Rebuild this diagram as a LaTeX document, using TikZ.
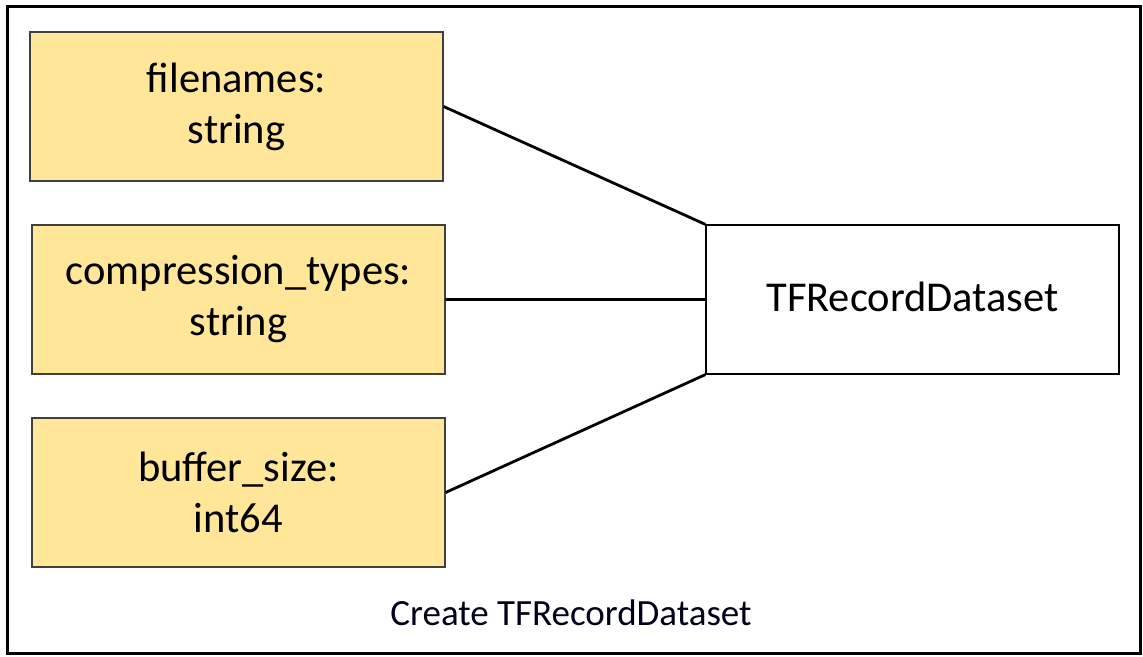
\documentclass[tikz,border=0pt]{standalone}
\usepackage{fontspec}
\setmainfont{Carlito}
\usepackage{xcolor}
\usetikzlibrary{positioning}

\definecolor{argfill}{HTML}{FFE699}
\definecolor{argline}{HTML}{404040}

\begin{document}
\begin{tikzpicture}[x=1pt, y=-1pt, node distance=193pt, on grid,
    arg/.style={draw=argline, line width=1.2pt, fill=argfill, minimum width=413pt, minimum height=149pt,
        align=center, font=\fontsize{42.5}{51}\selectfont, inner sep=0pt},
    op/.style={draw=black, line width=1.2pt, fill=white, minimum width=413pt, minimum height=149pt,
        font=\fontsize{42.5}{51}\selectfont, inner sep=0pt, text depth=0.6em},
    wire/.style={draw=black, line width=2.8pt}]
        \useasboundingbox (0,0) rectangle (1143,656);
        \draw[line width=3pt] (7,6) rectangle (1140,653);
        \node[arg] (files) at (236.5,106.5) {filenames:\\string};
        \node[arg] (comp) [below=of files, xshift=2pt] {compression\_types:\\string};
        \node[arg] (buf) [below=of comp] {buffer\_size:\\int64};
        \node[op] (ds) [right=674pt of comp] {TFRecordDataset};
        \node[font=\fontsize{37}{44}\selectfont, text=black!90!blue] (caption) at (571,613) {Create TFRecordDataset};
        \path[wire]
        (files.east) -- (ds.north west)
        (comp.east) -- (ds.west)
        (buf.east) -- (ds.south west);
    \end{tikzpicture}
\end{document}
